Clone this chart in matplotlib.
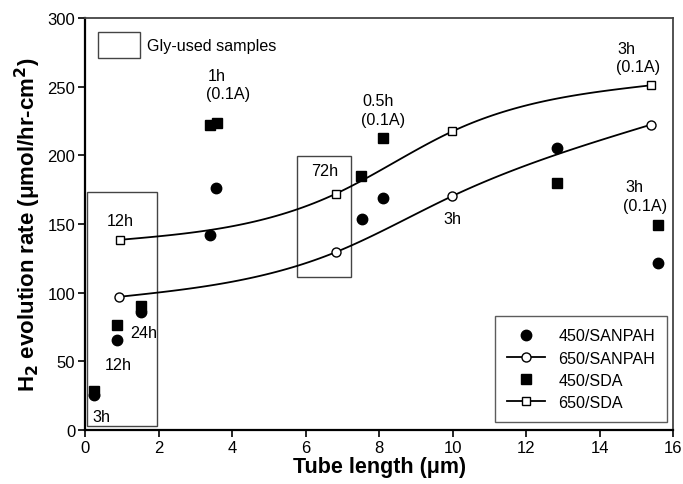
import numpy as np
import matplotlib
matplotlib.use("Agg")
import matplotlib.pyplot as plt
from matplotlib.patches import Rectangle

plt.rcParams['font.family'] = ['Liberation Sans', 'DejaVu Sans']

# data
sanpah450_x = [0.24, 0.88, 1.52, 3.40, 3.56, 7.53, 8.12, 12.83, 15.59]
sanpah450_y = [25.5, 65.4, 86.0, 142.0, 176.0, 153.3, 169.0, 205.3, 121.7]
sda450_x = [0.24, 0.88, 1.52, 3.40, 3.60, 7.51, 8.12, 12.83, 15.59]
sda450_y = [28.7, 76.5, 90.6, 221.8, 223.5, 184.6, 212.6, 180.0, 149.0]
sanpah650_x = [0.93, 6.82, 9.99, 15.39]
sanpah650_y = [97.0, 129.5, 170.3, 222.3]
sda650_x = [0.95, 6.82, 9.99, 15.39]
sda650_y = [138.5, 172.0, 217.4, 251.0]

xticks = [0, 2, 4, 6, 8, 10, 12, 14, 16]
yticks = [0, 50, 100, 150, 200, 250, 300]


def spline_curve(x, y, n=40):
    # natural cubic spline through the points, for drawing the smooth line
    x = np.asarray(x, float)
    y = np.asarray(y, float)
    k = len(x)
    h = np.diff(x)
    A = np.zeros((k, k))
    b = np.zeros(k)
    A[0, 0] = A[-1, -1] = 1
    for i in range(1, k - 1):
        A[i, i - 1] = h[i - 1]
        A[i, i] = 2 * (h[i - 1] + h[i])
        A[i, i + 1] = h[i]
        b[i] = 6 * ((y[i + 1] - y[i]) / h[i] - (y[i] - y[i - 1]) / h[i - 1])
    M = np.linalg.solve(A, b)
    xs, ys, idx = [], [], []
    for i in range(k - 1):
        t = np.linspace(x[i], x[i + 1], n, endpoint=(i == k - 2))
        a = x[i + 1] - t
        c = t - x[i]
        s = (M[i] * a ** 3 + M[i + 1] * c ** 3) / (6 * h[i]) \
            + (y[i] / h[i] - M[i] * h[i] / 6) * a \
            + (y[i + 1] / h[i] - M[i + 1] * h[i] / 6) * c
        idx.append(len(xs))
        xs.extend(t)
        ys.extend(s)
    idx.append(len(xs) - 1)
    return np.array(xs), np.array(ys), idx


fig = plt.figure(figsize=(6.83, 4.85), dpi=100)
ax = fig.add_axes([0.1245, 0.1113, 0.861, 0.8495])

ax.plot(sanpah450_x, sanpah450_y, 'o', color='black', markersize=7.5,
        linestyle='none', label='450/SANPAH')
cx, cy, mi = spline_curve(sanpah650_x, sanpah650_y)
ax.plot(cx, cy, '-o', color='black', linewidth=1.3, markevery=mi,
        markersize=6.5, markerfacecolor='white', markeredgewidth=1,
        label='650/SANPAH')
ax.plot(sda450_x, sda450_y, 's', color='black', markersize=6.5,
        linestyle='none', label='450/SDA')
cx, cy, mi = spline_curve(sda650_x, sda650_y)
ax.plot(cx, cy, '-s', color='black', linewidth=1.3, markevery=mi,
        markersize=6, markerfacecolor='white', markeredgewidth=1,
        label='650/SDA')

# boxes marking Gly-used samples
ax.add_patch(Rectangle((0.06, 2.7), 1.91, 170.3, fill=False,
                       edgecolor='#444444', linewidth=1))
ax.add_patch(Rectangle((5.76, 111.7), 1.48, 87.5, fill=False,
                       edgecolor='#444444', linewidth=1))
ax.add_patch(Rectangle((0.36, 271), 1.14, 18.6, fill=False,
                       edgecolor='#444444', linewidth=1))
ax.text(1.68, 280, 'Gly-used samples', fontsize=11.6, va='center', ha='left')

fs = 11.6
ax.text(0.95, 152.5, '12h', fontsize=fs, ha='center', va='center')
ax.text(1.59, 71.2, '24h', fontsize=fs, ha='center', va='center')
ax.text(0.91, 48, '12h', fontsize=fs, ha='center', va='center')
ax.text(0.45, 10, '3h', fontsize=fs, ha='center', va='center')
ax.text(6.53, 189, '72h', fontsize=fs, ha='center', va='center')
ax.text(10.0, 153.8, '3h', fontsize=fs, ha='center', va='center')
ax.text(3.35, 258, '1h', fontsize=fs, ha='left', va='center')
ax.text(3.30, 245, '(0.1A)', fontsize=fs, ha='left', va='center')
ax.text(7.54, 240, '0.5h', fontsize=fs, ha='left', va='center')
ax.text(7.50, 226, '(0.1A)', fontsize=fs, ha='left', va='center')
ax.text(14.48, 278, '3h', fontsize=fs, ha='left', va='center')
ax.text(14.45, 265, '(0.1A)', fontsize=fs, ha='left', va='center')
ax.text(14.70, 177, '3h', fontsize=fs, ha='left', va='center')
ax.text(14.65, 163.5, '(0.1A)', fontsize=fs, ha='left', va='center')

ax.set_xlim(0, 16)
ax.set_ylim(0, 300)
ax.set_xticks(xticks)
ax.set_yticks(yticks)
ax.tick_params(direction='out', length=5, width=1.2, labelsize=12, pad=2)

for side in ['left', 'bottom']:
    ax.spines[side].set_linewidth(1.6)
    ax.spines[side].set_color('black')
for side in ['top', 'right']:
    ax.spines[side].set_linewidth(1.3)
    ax.spines[side].set_color('#444444')

ax.set_xlabel('Tube length (\u03bcm)', fontsize=15.5, fontweight='bold', labelpad=1)
ax.set_ylabel('H$_\\mathbf{2}$ evolution rate (\u03bcmol/hr-cm$^\\mathbf{2}$)',
              fontsize=16, fontweight='bold', labelpad=3)

leg = ax.legend(loc='lower right', bbox_to_anchor=(0.99, 0.019), fontsize=11.6,
                frameon=True, fancybox=False, edgecolor='#333333',
                handlelength=2.4, borderpad=0.75, labelspacing=0.45,
                borderaxespad=0)
leg.get_frame().set_linewidth(1)

fig.savefig('out.png', dpi=100)
